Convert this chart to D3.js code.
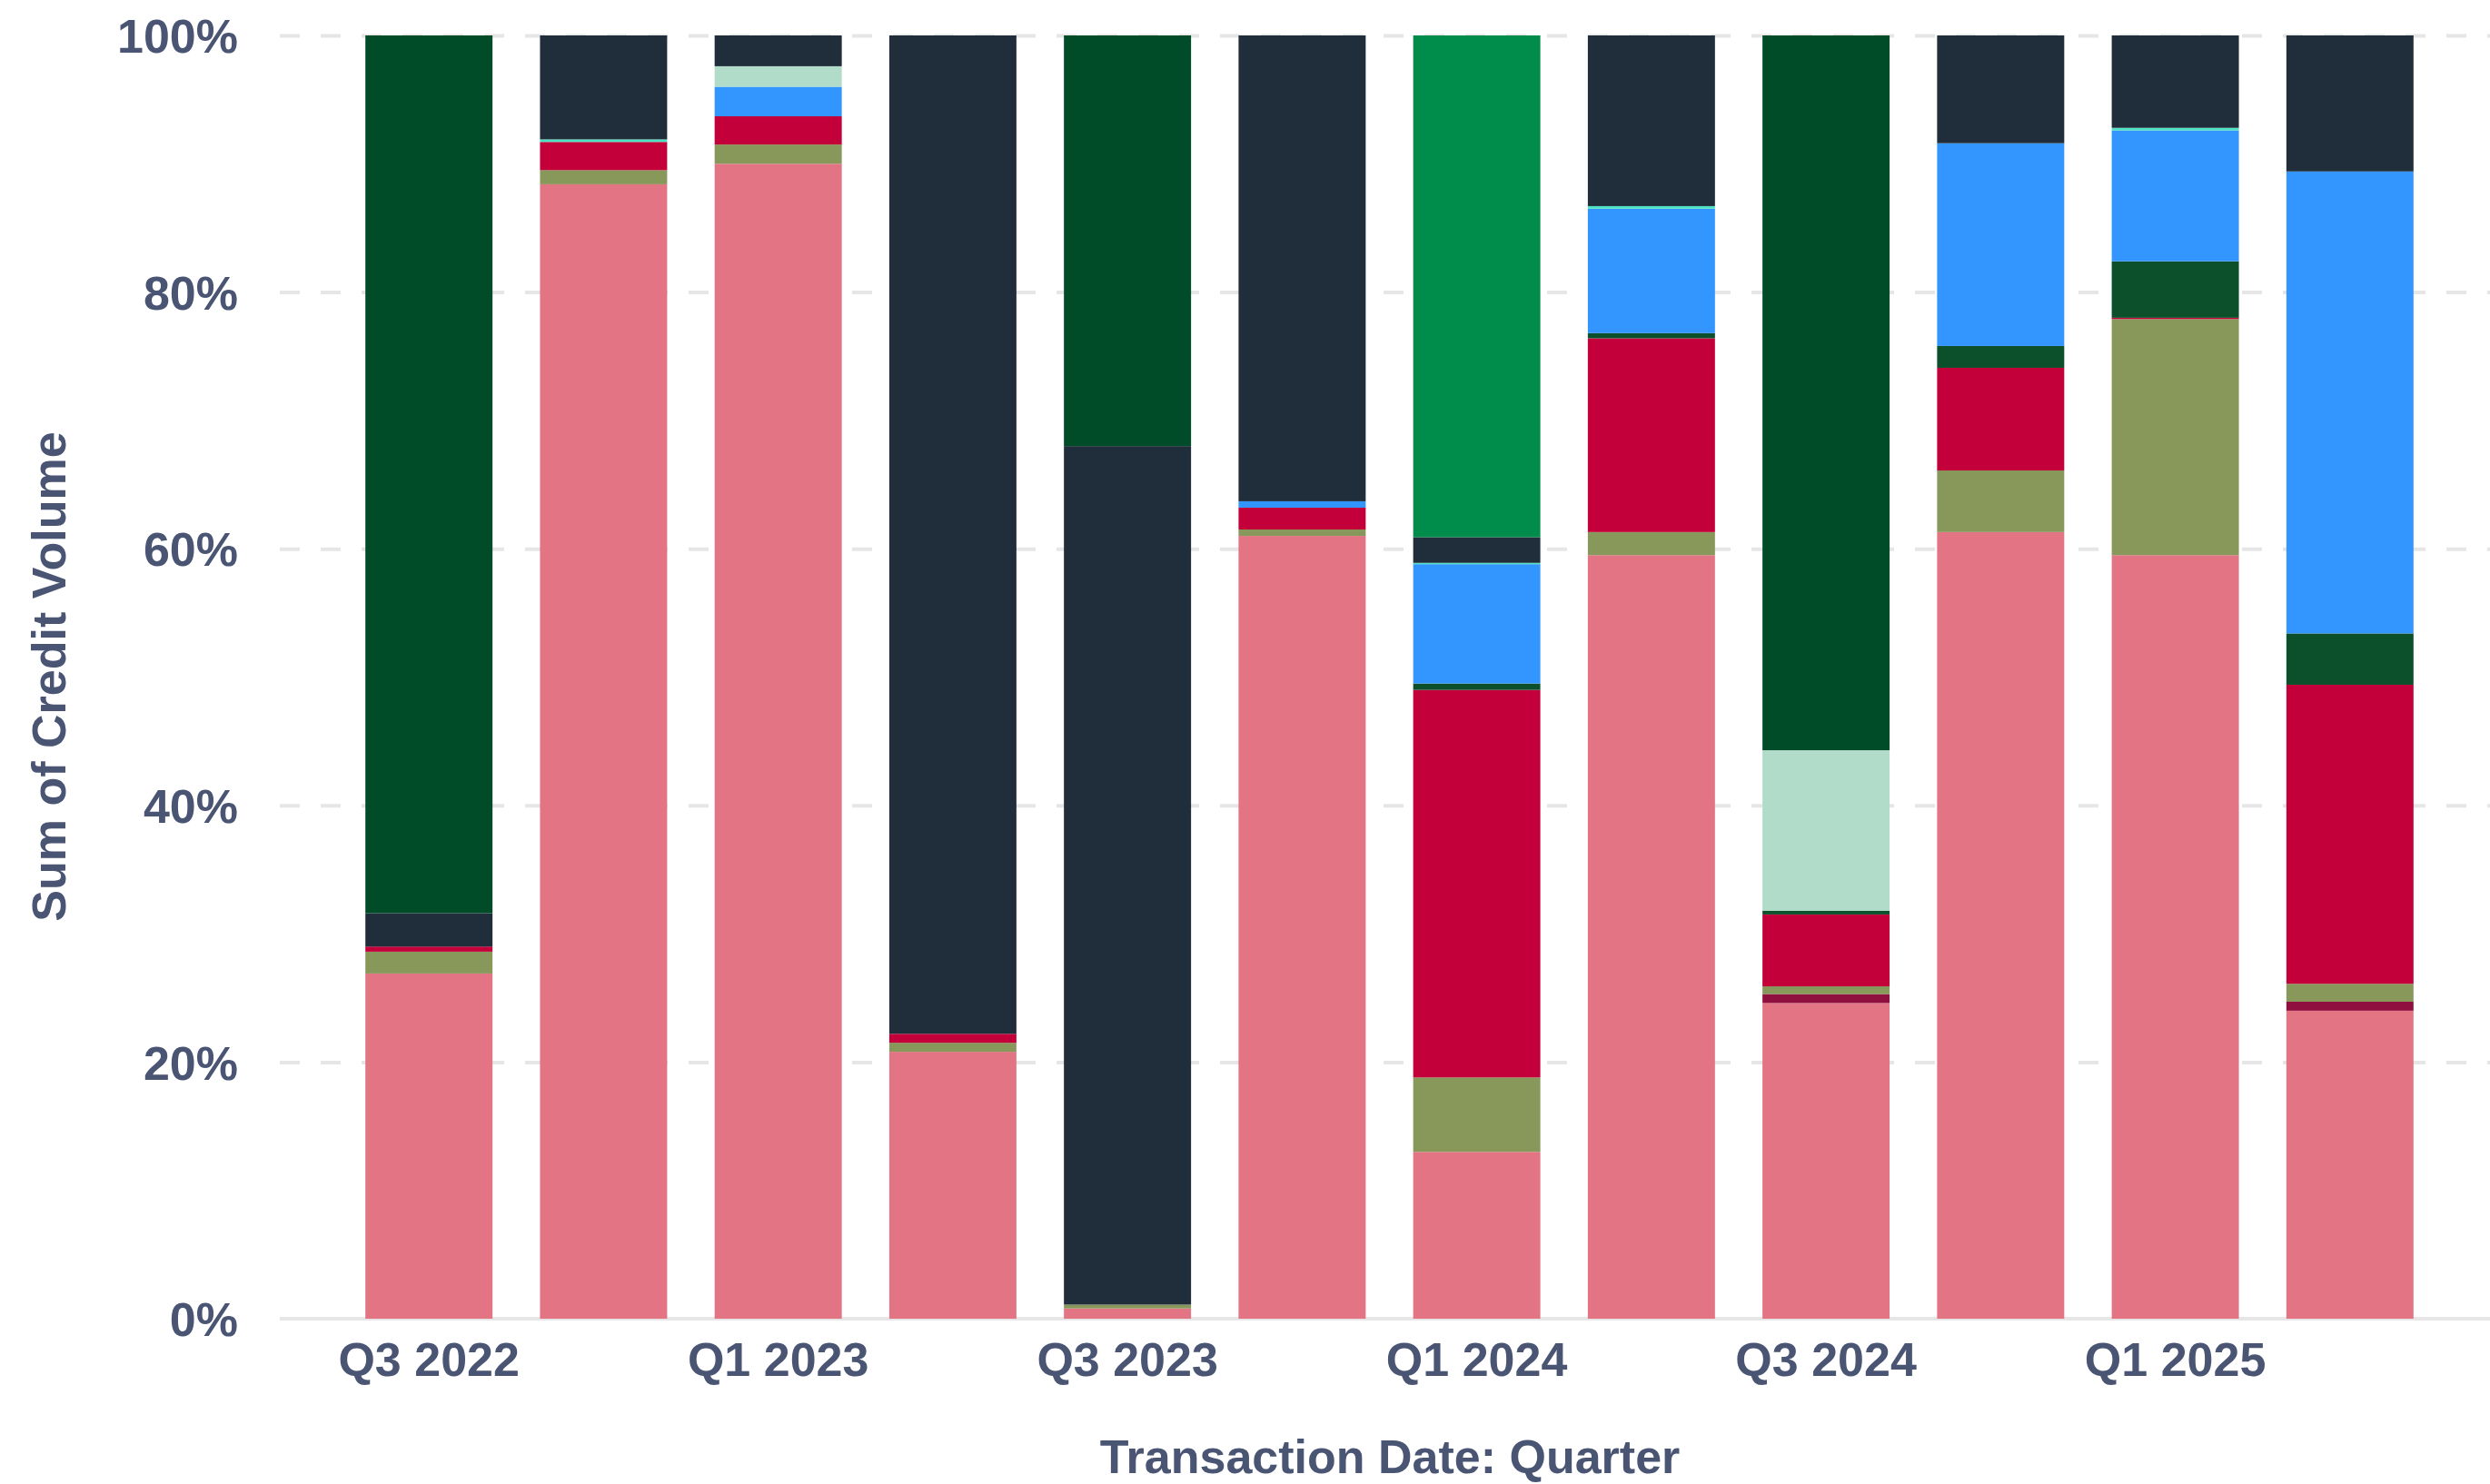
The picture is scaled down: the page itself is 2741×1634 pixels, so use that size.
<!DOCTYPE html>
<html>
<head>
<meta charset="utf-8">
<script src="https://cdn.jsdelivr.net/npm/d3@7"></script>
<style>
  html, body { margin: 0; padding: 0; background: #ffffff; }
  svg { display: block; }
  text { font-family: "Liberation Sans", Arial, Helvetica, sans-serif; font-weight: bold; fill: #4a5574; }
</style>
</head>
<body>
<svg id="chart" width="2741" height="1634"></svg>
<script>
// Quarters on the x axis
const quarters = ["Q3 2022", "Q4 2022", "Q1 2023", "Q2 2023", "Q3 2023", "Q4 2023",
                  "Q1 2024", "Q2 2024", "Q3 2024", "Q4 2024", "Q1 2025", "Q2 2025"];

// Only every other quarter carries a label
const xTickLabels = ["Q3 2022", "Q1 2023", "Q3 2023", "Q1 2024", "Q3 2024", "Q1 2025"];

// Share of credit volume (%) per quarter, one array per stacked segment (bottom to top)
const segmentNames = ["Segment A", "Segment B", "Segment C", "Segment D", "Segment E", "Segment F",
                      "Segment G", "Segment H", "Segment I", "Segment J", "Segment K"];
const segmentA = [26.9, 88.4, 90.0, 20.8, 0.8, 61.0, 13.0, 59.5, 24.6, 61.3, 59.5, 24.0];
const segmentB = [0,    0,    0,    0,    0,   0,    0,    0,    0.7,  0,    0,    0.7];
const segmentC = [1.7,  1.1,  1.5,  0.7,  0.3, 0.5,  5.8,  1.8,  0.6,  4.8,  18.4, 1.4];
const segmentD = [0.4,  2.2,  2.2,  0.7,  0,   1.7,  30.2, 15.1, 5.6,  8.0,  0.1,  23.3];
const segmentE = [0,    0,    0,    0,    0,   0,    0.5,  0.4,  0.3,  1.7,  4.4,  4.0];
const segmentF = [0,    0,    2.3,  0,    0,   0.5,  9.3,  9.7,  0,    15.8, 10.2, 36.0];
const segmentG = [0,    0.2,  0,    0,    0,   0,    0.1,  0.2,  0,    0,    0.2,  0];
const segmentH = [0,    0,    1.6,  0,    0,   0,    0,    0,    12.5, 0,    0,    0];
const segmentI = [2.6,  8.1,  2.4,  77.8, 66.9, 36.3, 2.0, 13.3, 0,    8.4,  7.2,  10.6];
const segmentJ = [0,    0,    0,    0,    0,   0,    39.1, 0,    0,    0,    0,    0];
const segmentK = [68.4, 0,    0,    0,    32.0, 0,   0,    0,    55.7, 0,    0,    0];

const segmentColors = ["#e27483", "#8f0f3f", "#88975a", "#c3003a", "#0c4f2b", "#3396ff",
                       "#4de3c2", "#b0dcc9", "#202d3a", "#008c4a", "#004c29"];

const yTickValues = [0, 0.2, 0.4, 0.6, 0.8, 1.0];

// Build the row table used by d3.stack
const seriesValues = [segmentA, segmentB, segmentC, segmentD, segmentE, segmentF,
                      segmentG, segmentH, segmentI, segmentJ, segmentK];
const rows = quarters.map((q, i) => {
  const row = { quarter: q };
  segmentNames.forEach((name, s) => { row[name] = seriesValues[s][i]; });
  return row;
});

const width = 2741, height = 1634;
const plotLeft = 308, plotTop = 39, plotBottom = 1452;

const svg = d3.select("#chart");

const x = d3.scaleBand()
  .domain(quarters)
  .range([plotLeft, 2751])
  .paddingInner(0.272)
  .paddingOuter(0.49);

const y = d3.scaleLinear().domain([0, 1]).range([plotBottom, plotTop]);

const color = d3.scaleOrdinal().domain(segmentNames).range(segmentColors);

// Horizontal grid and percentage labels
const yAxis = d3.axisLeft(y)
  .tickValues(yTickValues)
  .tickFormat(d3.format(".0%"))
  .tickSize(-(width - plotLeft))
  .tickPadding(46);

const yG = svg.append("g")
  .attr("transform", `translate(${plotLeft},0)`)
  .call(yAxis);
yG.select(".domain").remove();
yG.selectAll(".tick line")
  .attr("stroke", "#e6e6e6")
  .attr("stroke-width", 4)
  .attr("stroke-dasharray", "22,23")
  .attr("display", d => d === 0 ? "none" : null);
yG.selectAll(".tick text")
  .attr("font-size", 52)
  .attr("dy", "0.36em")
  .style("fill", "#4a5574");

// Baseline
svg.append("line")
  .attr("x1", plotLeft).attr("x2", width)
  .attr("y1", y(0)).attr("y2", y(0))
  .attr("stroke", "#e6e6e6")
  .attr("stroke-width", 4);

// Stacked 100% bars
const stack = d3.stack().keys(segmentNames).offset(d3.stackOffsetExpand);
const layers = stack(rows);

svg.append("g")
  .selectAll("g")
  .data(layers)
  .join("g")
  .attr("fill", d => color(d.key))
  .selectAll("rect")
  .data(d => d)
  .join("rect")
  .attr("x", d => x(d.data.quarter))
  .attr("width", x.bandwidth())
  .attr("y", d => y(d[1]))
  .attr("height", d => Math.max(0, y(d[0]) - y(d[1])));

// Quarter labels
const xAxis = d3.axisBottom(x)
  .tickValues(xTickLabels)
  .tickSize(0)
  .tickPadding(26);
const xG = svg.append("g")
  .attr("transform", `translate(0,${plotBottom})`)
  .call(xAxis);
xG.select(".domain").remove();
xG.selectAll(".tick text")
  .attr("font-size", 52)
  .style("fill", "#4a5574");

// Axis titles
svg.append("text")
  .attr("x", 1530)
  .attr("y", 1622)
  .attr("text-anchor", "middle")
  .attr("font-size", 52)
  .text("Transaction Date: Quarter");

svg.append("text")
  .attr("transform", "translate(72,745) rotate(-90)")
  .attr("text-anchor", "middle")
  .attr("font-size", 52)
  .text("Sum of Credit Volume");
</script>
</body>
</html>
